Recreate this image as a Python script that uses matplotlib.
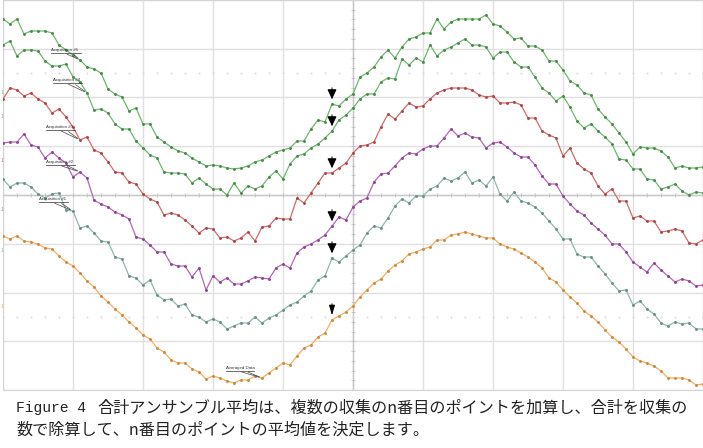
import numpy as np
import matplotlib.pyplot as plt

plt.rcParams['font.family'] = ['Noto Sans CJK JP', 'DejaVu Sans']

# sample index (10 per division) and levels in screen counts (0..390, 48.75 per division)
samples = np.arange(101)

acq5 = [371, 366, 371, 356, 359, 359, 359, 357, 345, 340, 335, 330, 323, 321, 317, 301, 296,
        293, 279, 282, 266, 266, 253, 248, 243, 239, 237, 232, 228, 224, 225, 224, 222, 221,
        222, 224, 228, 230, 234, 238, 240, 242, 249, 249, 261, 270, 268, 286, 284, 291,
        296, 313, 317, 323, 333, 340, 332, 343, 351, 353, 357, 357, 371, 361, 368, 371,
        371, 371, 371, 375, 366, 364, 358, 351, 352, 344, 344, 340, 329, 329, 320, 309, 305,
        297, 295, 281, 273, 266, 257, 248, 236, 243, 242, 242, 239, 233, 222, 224, 222, 222, 223]

acq4 = [345, 349, 334, 340, 340, 339, 329, 324, 324, 326, 313, 308, 297, 280, 281, 277, 266,
        261, 261, 249, 242, 235, 232, 218, 217, 217, 216, 207, 212, 206, 201, 201, 195, 207,
        197, 204, 201, 204, 213, 219, 211, 226, 234, 236, 242, 246, 252, 259, 270, 275,
        282, 291, 296, 296, 308, 312, 311, 331, 325, 332, 328, 345, 334, 340, 343, 347,
        351, 345, 345, 343, 332, 338, 338, 328, 323, 323, 313, 302, 297, 289, 294, 283, 269,
        262, 266, 259, 253, 246, 231, 230, 221, 221, 211, 210, 201, 203, 206, 199, 195, 198, 197]

acq3 = [291, 302, 300, 294, 297, 291, 287, 277, 281, 273, 263, 250, 253, 240, 237, 228, 218,
        217, 208, 206, 196, 191, 188, 175, 177, 175, 170, 164, 157, 162, 161, 152, 153, 149,
        152, 158, 149, 163, 164, 172, 171, 171, 192, 187, 197, 207, 217, 217, 222, 227,
        237, 244, 245, 248, 263, 276, 271, 279, 287, 283, 284, 291, 297, 300, 302, 302,
        302, 300, 295, 293, 294, 287, 287, 288, 285, 272, 272, 259, 255, 252, 234, 242, 227,
        221, 217, 204, 196, 201, 189, 189, 172, 174, 169, 169, 158, 159, 161, 159, 147, 146, 150]

acq2 = [247, 248, 248, 256, 245, 243, 232, 238, 232, 227, 213, 218, 212, 190, 186, 183, 178,
        175, 171, 153, 151, 145, 138, 138, 126, 124, 124, 113, 122, 100, 114, 108, 112, 106,
        106, 109, 113, 112, 111, 122, 126, 122, 137, 143, 146, 150, 155, 164, 173, 170,
        183, 189, 192, 208, 216, 217, 224, 232, 237, 236, 241, 244, 244, 252, 261, 254,
        257, 253, 252, 242, 247, 248, 243, 237, 233, 233, 225, 214, 206, 206, 194, 186, 179,
        175, 167, 161, 155, 146, 146, 138, 128, 123, 118, 127, 120, 114, 108, 111, 109, 104, 105]

acq1 = [211, 203, 207, 207, 203, 196, 192, 196, 197, 180, 179, 162, 164, 157, 149, 148, 133,
        131, 114, 112, 105, 110, 95, 90, 91, 84, 86, 75, 73, 68, 71, 68, 61, 64,
        67, 67, 73, 67, 72, 75, 80, 85, 88, 94, 99, 110, 114, 132, 128, 134,
        140, 145, 157, 164, 162, 172, 184, 191, 187, 194, 194, 201, 204, 212, 209, 212,
        218, 207, 210, 204, 213, 196, 189, 198, 189, 187, 183, 177, 169, 161, 151, 151, 136,
        133, 133, 124, 116, 107, 99, 100, 85, 89, 81, 76, 67, 64, 68, 66, 67, 61, 61]

averaged = [154, 151, 154, 149, 148, 146, 142, 141, 134, 128, 124, 117, 109, 103, 94, 88, 81,
            75, 68, 62, 55, 51, 42, 38, 30, 27, 27, 21, 18, 11, 14, 12, 9, 7,
            10, 10, 14, 12, 17, 22, 27, 25, 34, 42, 45, 53, 57, 70, 74, 78,
            84, 93, 100, 107, 111, 119, 125, 129, 136, 138, 141, 143, 150, 150, 155, 156,
            158, 156, 154, 152, 152, 146, 143, 141, 137, 133, 128, 122, 112, 108, 100, 93, 87,
            79, 74, 68, 60, 53, 48, 41, 33, 29, 27, 24, 19, 12, 12, 12, 10, 5, 6]

series = [acq5, acq4, acq3, acq2, acq1, averaged]
labels = ['Acquisition #5', 'Acquisition #4', 'Acquisition #3', 'Acquisition #2',
          'Acquisition #1', 'Averaged Data']
colors = ['#6cb86c', '#6cb86c', '#d86868', '#b565bb', '#8fb5ae', '#f5ad5f']
marker_colors = ['#4a8a4a', '#4a8a4a', '#a84848', '#8a468f', '#6a8e88', '#cc8a3c']

# label position (sample, level) and index of the point its leader goes to
label_pos = [(6.9, 338), (7.1, 308), (6.1, 261), (6.1, 226), (5.1, 189), (31.9, 20)]
label_target = [11, 12, 11, 11, 10, 37]
arrow_index = 47

fig = plt.figure(figsize=(7.03, 4.48), dpi=100)
ax = fig.add_axes([3 / 703, 58 / 448, 700 / 703, 390 / 448])
ax.set_xlim(0, 100)
ax.set_ylim(0, 390)

# graticule
ax.set_xticks(np.arange(0, 101, 10))
ax.set_yticks(np.linspace(0, 390, 9))
ax.grid(True, color='#e0e0e0', lw=1)
ax.tick_params(length=0, labelbottom=False, labelleft=False)
for s in ax.spines.values():
    s.set_color('#d4d4d4')
ax.axhline(195, color='#c8c8c8', lw=1)
ax.axvline(50, color='#c8c8c8', lw=1)
minor_x = np.arange(0, 101, 2)
minor_y = np.arange(0, 391, 9.75)
ax.plot(minor_x, np.full(len(minor_x), 195), ls='none', marker='|', ms=3, color='#c0c0c0', mew=0.6)
ax.plot(np.full(len(minor_y), 50), minor_y, ls='none', marker='_', ms=3, color='#c0c0c0', mew=0.6)
for lvl in (73, 317):
    ax.plot(minor_x, np.full(len(minor_x), lvl), ls='none', marker='.', ms=1.0, color='#dadada')

# traces
for data, c, mc in zip(series, colors, marker_colors):
    ax.plot(samples, data, color=c, lw=0.9, marker='o', ms=1.1, mfc=mc, mec=mc, zorder=3)

# labels with underline and leader
for (lx, ly), lab, idx, data in zip(label_pos, labels, label_target, series):
    ax.text(lx, ly, lab, fontsize=3.2, family='Liberation Sans', color='#333333',
            va='bottom', ha='left', zorder=5)
    w = len(lab) * 0.3
    ax.plot([lx, lx + w], [ly - 1, ly - 1], color='#333333', lw=0.5, zorder=5)
    ax.annotate('', xy=(idx, data[idx]), xytext=(lx + w * 0.45, ly - 1),
                arrowprops=dict(arrowstyle='-', color='#444444', lw=0.5), zorder=5)
    ax.annotate('', xy=(idx, data[idx]), xytext=(lx + w * 0.7, ly - 1),
                arrowprops=dict(arrowstyle='-', color='#444444', lw=0.5), zorder=5)

# arrows marking the n-th point
for k, data in enumerate(series):
    hw = 0.18 if k == 5 else 0.28
    ax.annotate('', xy=(arrow_index, data[arrow_index] + 2),
                xytext=(arrow_index, data[arrow_index] + 19),
                arrowprops=dict(arrowstyle='-|>,head_length=0.6,head_width=%s' % hw,
                                color='black', lw=0.7, mutation_scale=10), zorder=6)

# channel markers on the left edge
chan_y = [93, 116, 160, 209, 251, 307]
for py, c in zip(chan_y, colors):
    fig.text(1 / 703, 1 - py / 448, '1', fontsize=3.5, color=c, va='center')

fig.text(16 / 703, 1 - 408 / 448, 'Figure 4', fontsize=10.5, family='Liberation Mono',
         color='#222222', va='center')
fig.text(97 / 703, 1 - 408 / 448,
         '合計アンサンブル平均は、複数の収集のn番目のポイントを加算し、合計を収集の',
         fontsize=11.6, color='#222222', va='center')
fig.text(16 / 703, 1 - 430 / 448, '数で除算して、n番目のポイントの平均値を決定します。',
         fontsize=11.6, color='#222222', va='center')

fig.savefig('out.png', dpi=100)
